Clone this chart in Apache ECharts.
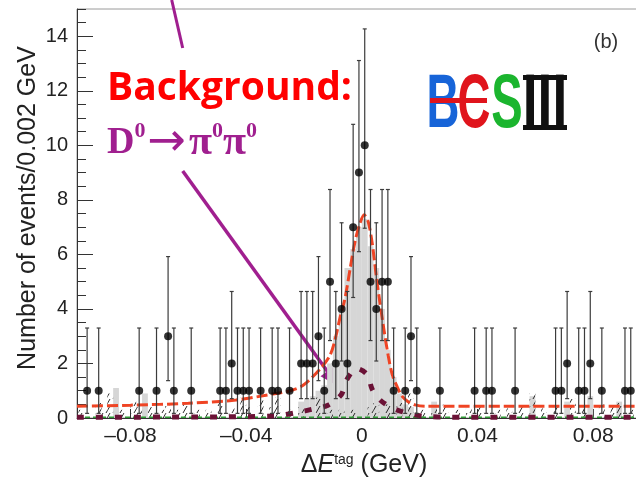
<!DOCTYPE html>
<html>
<head>
<meta charset="utf-8">
<script src="https://cdn.jsdelivr.net/npm/echarts@6/dist/echarts.min.js"></script>
<style>
  html, body { margin: 0; padding: 0; background: #fff; }
  #chart { width: 636px; height: 480px; }
</style>
</head>
<body>
<div id="chart"></div>
<script>
// ΔE(tag) distribution, 0.002 GeV bins; values are bin centres.
const BIN = 0.002;

// data: events per bin
const dataX = [-0.095, -0.091, -0.077, -0.071, -0.067, -0.065, -0.059,
  -0.049, -0.047, -0.045, -0.043, -0.041, -0.039,
  -0.035, -0.031, -0.029, -0.025,
  -0.021, -0.019, -0.017, -0.015, -0.013, -0.011, -0.009, -0.007, -0.005, -0.003, -0.001,
  0.001, 0.003, 0.005, 0.007, 0.009, 0.011,
  0.015, 0.017, 0.019, 0.027, 0.039, 0.043, 0.045, 0.053,
  0.067, 0.069, 0.071, 0.075, 0.077, 0.079, 0.083, 0.091, 0.093];
const dataN = [1, 1, 1, 1, 3, 1, 1,
  1, 1, 2, 1, 1, 1,
  1, 1, 1, 1,
  2, 2, 2, 3, 1, 5, 2, 4, 2, 7, 9,
  10, 5, 4, 5, 5, 1,
  1, 3, 1, 1, 1, 1, 1, 1,
  1, 1, 2, 1, 1, 2, 1, 1, 1];

// 68% Poisson interval [low, high] for each observed count
const poissonBand = {
  1: [0.17, 3.30], 2: [0.71, 4.64], 3: [1.37, 5.92], 4: [2.09, 7.16],
  5: [2.84, 8.38], 7: [4.42, 10.77], 9: [6.10, 13.11], 10: [6.96, 14.27]
};

// signal MC (grey filled histogram)
const signalX = [-0.085, -0.075, -0.021, -0.019, -0.017, -0.015, -0.013, -0.011, -0.009, -0.007,
  -0.005, -0.003, -0.001, 0.001, 0.003, 0.005, 0.007, 0.009, 0.011, 0.013, 0.015, 0.017,
  0.025, 0.059, 0.071, 0.079, 0.089];
const signalH = [1.1, 0.9, 0.6, 0.7, 0.8, 1.0, 1.2, 2.0, 3.0, 4.0,
  5.5, 6.2, 7.0, 7.3, 6.3, 5.5, 4.0, 2.5, 1.5, 0.9, 0.5, 0.4,
  0.6, 0.8, 0.6, 0.8, 0.6];

// background MC (hatched histogram)
const hatchX = [-0.097, -0.091, -0.089, -0.087, -0.083, -0.079, -0.077, -0.073, -0.069, -0.067,
  -0.063, -0.061, -0.057, -0.053, -0.049, -0.045, -0.041, -0.039, -0.035, -0.031,
  -0.029, -0.025, -0.021, -0.015, -0.011, -0.007, -0.003, 0.003, 0.005, 0.009,
  0.013, 0.017, 0.021, 0.025, 0.029, 0.033, 0.037, 0.041, 0.047, 0.051,
  0.055, 0.059, 0.063, 0.067, 0.073, 0.077, 0.083, 0.087, 0.089, 0.093, 0.097];
const hatchH = [0.3, 0.55, 0.3, 0.9, 0.3, 0.6, 0.4, 0.4, 0.3, 0.45,
  0.3, 0.5, 0.3, 0.3, 0.55, 0.35, 0.75, 0.4, 0.65, 0.4,
  0.75, 0.3, 0.4, 0.75, 0.3, 0.3, 0.3, 0.4, 0.55, 0.5,
  0.55, 0.9, 0.3, 0.35, 0.5, 0.3, 0.35, 0.4, 0.3, 0.35,
  0.4, 0.9, 0.35, 0.4, 0.7, 0.35, 0.5, 0.4, 0.55, 0.3, 0.35];

// total fit
const fitX = [-0.0985, -0.08, -0.06, -0.0435, -0.0297, -0.0248, -0.0203, -0.0144, -0.011, -0.0092,
  -0.0075, -0.0058, -0.004, -0.0023, -0.0006, 0.0008, 0.0022, 0.0036, 0.005, 0.0063,
  0.0077, 0.0091, 0.0105, 0.0122, 0.0139, 0.016, 0.0184, 0.022, 0.05, 0.1];
const fitY = [0.43, 0.47, 0.54, 0.66, 0.9, 1.0, 1.2, 1.8, 2.3, 2.9,
  3.7, 4.4, 5.5, 6.5, 7.15, 7.45, 7.2, 6.4, 5.2, 4.2,
  3.2, 2.3, 1.6, 1.15, 0.8, 0.6, 0.48, 0.43, 0.43, 0.43];

// D0 -> pi0 pi0 peaking background shape
const pi0X = [-0.0985, -0.05, -0.03, -0.0225, -0.0168, -0.0117, -0.0072, -0.0054, -0.0034, -0.002,
  0.0018, 0.0036, 0.0063, 0.0107, 0.0167, 0.022, 0.03, 0.1];
const pi0Y = [0.03, 0.04, 0.08, 0.2, 0.33, 0.47, 0.84, 1.36, 1.7, 1.82,
  1.6, 1.05, 0.66, 0.36, 0.15, 0.06, 0.03, 0.03];

// flat combinatorial component
const flatX = [-0.0985, 0.1];
const flatY = [0.03, 0.03];

const xTicks = [-0.08, -0.04, 0, 0.04, 0.08];
const yTicks = [0, 2, 4, 6, 8, 10, 12, 14];

const zip = (xs, ys) => xs.map((x, i) => [x, ys[i]]);

// diagonal hatch pattern
const hatchCanvas = document.createElement('canvas');
hatchCanvas.width = 7; hatchCanvas.height = 7;
(function () {
  const g = hatchCanvas.getContext('2d');
  g.strokeStyle = '#2b2b2b';
  g.lineWidth = 1;
  g.beginPath();
  g.moveTo(1, 7); g.lineTo(5, 0);
  g.stroke();
})();
const hatchFill = { image: hatchCanvas, repeat: 'repeat' };

function histItem(fill) {
  return function (params, api) {
    const c = api.value(0), h = api.value(1);
    const p0 = api.coord([c - BIN / 2, h]);
    const p1 = api.coord([c + BIN / 2, 0]);
    return {
      type: 'rect',
      shape: { x: p0[0], y: p0[1], width: p1[0] - p0[0], height: p1[1] - p0[1] },
      style: { fill: fill }
    };
  };
}

function errorBarItem(params, api) {
  const x = api.value(0), lo = api.value(1), hi = api.value(2);
  const a = api.coord([x, hi]);
  const b = api.coord([x, lo]);
  const st = { stroke: '#3c3c3c', lineWidth: 1.2 };
  return {
    type: 'group',
    children: [
      { type: 'line', shape: { x1: a[0], y1: a[1], x2: b[0], y2: b[1] }, style: st },
      { type: 'line', shape: { x1: a[0] - 2, y1: a[1], x2: a[0] + 2, y2: a[1] }, style: st },
      { type: 'line', shape: { x1: b[0] - 2, y1: b[1], x2: b[0] + 2, y2: b[1] }, style: st }
    ]
  };
}

const fmtX = v => v === 0 ? '0' : (v < 0 ? '\u2013' : '') + Math.abs(v).toFixed(2);
const axisFont = '"Liberation Sans", Arial, sans-serif';
const purple = '#a01f8f';
const logoRed = '#e0141c';

const chart = echarts.init(document.getElementById('chart'), null, { renderer: 'canvas' });

chart.setOption({
  animation: false,
  backgroundColor: '#ffffff',
  grid: {
    left: 77, right: -15, top: 9, bottom: 62,
    outerBoundsMode: 'none', containLabel: false,
    show: true, borderColor: '#9a9a9a', borderWidth: 1, backgroundColor: 'transparent'
  },
  xAxis: {
    type: 'value', min: -0.0985, max: 0.1,
    axisLine: { onZero: false, lineStyle: { color: '#333', width: 1 } },
    axisTick: { inside: true, length: 9, customValues: xTicks, lineStyle: { color: '#333' } },
    axisLabel: {
      customValues: xTicks, formatter: fmtX, margin: 8, hideOverlap: false,
      fontFamily: axisFont, fontSize: 21, color: '#222'
    },
    splitLine: { show: false },
    name: '{d|\u0394}{e|E}{s|tag}{g| (GeV)}',
    nameLocation: 'middle', nameGap: 35,
    nameTextStyle: {
      rich: {
        d: { fontFamily: axisFont, fontSize: 25, color: '#222' },
        e: { fontFamily: axisFont, fontSize: 25, fontStyle: 'italic', color: '#222' },
        s: { fontFamily: axisFont, fontSize: 14, color: '#222', verticalAlign: 'top' },
        g: { fontFamily: axisFont, fontSize: 25, color: '#222' }
      }
    }
  },
  yAxis: [{
    type: 'value', min: 0, max: 15, interval: 2,
    axisLine: { show: true, onZero: false, lineStyle: { color: '#333', width: 1 } },
    axisTick: { inside: true, length: 16, customValues: yTicks, lineStyle: { color: '#333' } },
    axisLabel: {
      customValues: yTicks, margin: 9,
      fontFamily: axisFont, fontSize: 20, color: '#222'
    },
    splitLine: { show: false }
  }, {
    type: 'value', min: 0, max: 15, interval: 0.5, position: 'left',
    axisLine: { show: false, onZero: false },
    axisTick: { inside: true, length: 9, lineStyle: { color: '#333' } },
    axisLabel: { show: false },
    splitLine: { show: false }
  }],
  series: [
    {
      name: 'signal MC', type: 'custom', renderItem: histItem('#d6d6d6'),
      data: zip(signalX, signalH), encode: { x: 0, y: 1 }, z: 1
    },
    {
      name: 'background MC', type: 'custom', renderItem: histItem(hatchFill),
      data: zip(hatchX, hatchH), encode: { x: 0, y: 1 }, z: 2
    },
    {
      name: 'flat', type: 'line', data: zip(flatX, flatY), symbol: 'none',
      lineStyle: { color: '#2f9a35', width: 1.5, type: [5, 3] }, z: 3
    },
    {
      name: 'D0->pi0pi0', type: 'line', data: zip(pi0X, pi0Y), symbol: 'none', smooth: 0.3,
      lineStyle: { color: '#6b1236', width: 5, type: [7, 12] }, z: 4
    },
    {
      name: 'fit', type: 'line', data: zip(fitX, fitY), symbol: 'none', smooth: 0.3,
      lineStyle: { color: '#ef4424', width: 3, type: [11, 4] }, z: 5
    },
    {
      name: 'errors', type: 'custom', renderItem: errorBarItem,
      data: dataX.map((x, i) => [x, poissonBand[dataN[i]][0], poissonBand[dataN[i]][1]]),
      encode: { x: 0, y: [1, 2] }, z: 6
    },
    {
      name: 'data', type: 'scatter', data: zip(dataX, dataN),
      symbol: 'circle', symbolSize: 8, itemStyle: { color: '#000' }, z: 7
    }
  ],
  graphic: [
    // y-axis title
    { type: 'text', x: 28, y: 208, rotation: Math.PI / 2, style: { text: 'Number of events/0.002 GeV', font: '25px "Liberation Sans", Arial', fill: '#222', align: 'center', verticalAlign: 'middle' } },
    // panel tag
    { type: 'text', x: 606, y: 42, style: { text: '(b)', font: '20px "Liberation Sans", Arial', fill: '#333', align: 'center', verticalAlign: 'middle' } },
    // annotation
    { type: 'text', x: 107, y: 89, style: { text: 'Background:', font: 'bold 39px "Open Sans", sans-serif', fill: '#ff0000', align: 'left', verticalAlign: 'middle' } },
    {
      type: 'text', x: 107, y: 143,
      style: {
        text: '{m|D}{s|0}{a|\u2192}{p|\u03c0}{s|0}{p|\u03c0}{s|0}',
        align: 'left', verticalAlign: 'middle',
        rich: {
          m: { fontFamily: '"Liberation Serif", serif', fontWeight: 'bold', fontSize: 38, fill: purple },
          p: { fontFamily: '"Liberation Serif", serif', fontWeight: 'bold', fontSize: 42, fill: purple },
          a: { fontFamily: '"DejaVu Sans", sans-serif', fontSize: 46, fill: purple, padding: [0, 3, 0, 2] },
          s: { fontFamily: '"Liberation Serif", serif', fontWeight: 'bold', fontSize: 22, fill: purple, verticalAlign: 'top' }
        }
      }
    },
    { type: 'line', shape: { x1: 171.7, y1: 0, x2: 182.7, y2: 48 }, style: { stroke: purple, lineWidth: 3 } },
    { type: 'line', shape: { x1: 182.7, y1: 171, x2: 327.5, y2: 371.5 }, style: { stroke: purple, lineWidth: 3.5 } },
    { type: 'polygon', shape: { points: [[337.7, 386], [320.5, 376.3], [333.9, 366.6]] }, style: { fill: purple } },
    // BESIII logo
    { type: 'text', x: 443, y: 106, scaleX: 0.6, style: { text: 'B', font: 'bold 76px "Liberation Sans", Arial', fill: '#1764d8', align: 'center', verticalAlign: 'middle' } },
    { type: 'text', x: 474, y: 106, scaleX: 0.6, style: { text: 'C', font: 'bold 76px "Liberation Sans", Arial', fill: logoRed, align: 'center', verticalAlign: 'middle' } },
    { type: 'rect', shape: { x: 430, y: 98, width: 57, height: 5 }, style: { fill: logoRed } },
    { type: 'text', x: 507, y: 106, scaleX: 0.62, style: { text: 'S', font: 'bold 76px "Liberation Sans", Arial', fill: '#1bb52e', align: 'center', verticalAlign: 'middle' } },
    { type: 'text', x: 545, y: 106, scaleX: 0.7, style: { text: 'III', font: 'bold 76px "Liberation Sans", Arial', fill: '#111', align: 'center', verticalAlign: 'middle' } },
    { type: 'rect', shape: { x: 523, y: 75, width: 44, height: 5 }, style: { fill: '#111' } },
    { type: 'rect', shape: { x: 523, y: 125, width: 44, height: 5 }, style: { fill: '#111' } }
  ]
});
</script>
</body>
</html>
